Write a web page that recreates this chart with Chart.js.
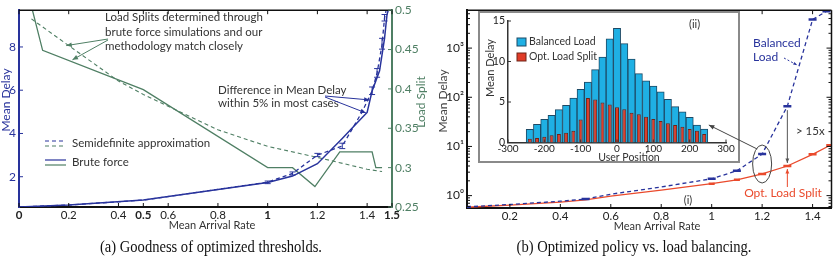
<!DOCTYPE html>
<html>
<head>
<meta charset="utf-8">
<script src="https://cdn.jsdelivr.net/npm/chart.js@4.4.1/dist/chart.umd.min.js"></script>
<style>
  body { margin: 0; background: #fff; }
  #wrap { position: relative; width: 838px; height: 262px; overflow: hidden; background: #fff; }
  canvas { position: absolute; }
  .cap { position: absolute; top: 238px; font: 16px "Liberation Serif", serif; color: #111; white-space: nowrap; transform: translateX(-50%) scaleX(0.91); }
</style>
</head>
<body>
<div id="wrap">
  <canvas id="left" width="430" height="236" style="left:0;top:0"></canvas>
  <canvas id="right" width="418" height="236" style="left:420px;top:0"></canvas>
  <canvas id="inset" width="262" height="152" style="left:478px;top:11px"></canvas>
  <canvas id="over" width="838" height="262" style="left:0;top:0"></canvas>
  <div class="cap" style="left:211px">(a) Goodness of optimized thresholds.</div>
  <div class="cap" style="left:634px">(b) Optimized policy vs. load balancing.</div>
</div>
<script>
// ---- (a) goodness of optimized thresholds ----
const xTicksA = [0, 0.2, 0.4, 0.5, 0.6, 0.8, 1, 1.2, 1.4, 1.5];
const boldTicksA = [0, 0.5, 1, 1.5];
const delayTicksA = [2, 4, 6, 8];
const splitTicksA = [0.25, 0.3, 0.35, 0.4, 0.45, 0.5];

// mean delay, semidefinite approximation (dashed) and brute force (solid)
const sdpRate  = [0, 0.2, 0.5, 1.0, 1.1, 1.2, 1.3, 1.38, 1.42, 1.44, 1.46, 1.47, 1.48];
const sdpDelay = [0.6, 0.69, 0.92, 1.75, 2.15, 3.0, 3.42, 5.0, 5.97, 6.8, 8.1, 9.35, 9.9];
const bfRate   = [0, 0.2, 0.5, 1.0, 1.1, 1.2, 1.3, 1.36, 1.4, 1.42, 1.45, 1.47, 1.48, 1.49];
const bfDelay  = [0.6, 0.69, 0.92, 1.73, 2.03, 2.6, 3.77, 4.5, 4.97, 5.97, 6.9, 8.4, 9.5, 9.9];
// error bars on the semidefinite curve
const errRate = [1.0, 1.1, 1.2, 1.3, 1.42, 1.44, 1.46, 1.47];
const errLo   = [1.68, 2.08, 2.93, 3.3, 5.8, 6.6, 7.9, 9.2];
const errHi   = [1.8, 2.22, 3.08, 3.55, 6.15, 7.0, 8.4, 9.5];
// load split (right axis)
const sdpSplitRate = [0.05, 0.2, 0.4, 0.5, 0.6, 0.8, 1.0, 1.2, 1.4, 1.46];
const sdpSplit     = [0.489, 0.455, 0.41, 0.393, 0.378, 0.348, 0.327, 0.313, 0.298, 0.295];
const bfSplitRate  = [0.05, 0.095, 0.5, 1.0, 1.1, 1.19, 1.29, 1.42, 1.435, 1.46];
const bfSplit      = [0.505, 0.449, 0.399, 0.30, 0.30, 0.276, 0.32, 0.32, 0.30, 0.30];

// ---- (b) optimized policy vs load balancing ----
const xTicksB = [0.2, 0.4, 0.6, 0.8, 1, 1.2, 1.4];
const delayTicksB = [1, 10, 100, 1000];
const balRate  = [0.03, 0.2, 0.4, 0.5, 0.6, 0.8, 1.0, 1.1, 1.2, 1.3, 1.4, 1.455];
const balDelay = [0.59, 0.66, 0.77, 0.85, 1.07, 1.5, 2.2, 3.2, 7.0, 66, 3800, 5600];
const optRate  = [0.03, 0.2, 0.4, 0.5, 0.6, 0.8, 1.0, 1.1, 1.2, 1.3, 1.4, 1.47];
const optDelay = [0.58, 0.64, 0.74, 0.82, 0.98, 1.29, 1.75, 2.1, 2.76, 4.0, 6.9, 10.6];

// inset: delay per user position
const userPos = [-240, -220, -200, -180, -160, -140, -120, -100, -80, -60, -40, -20, 0,
                 20, 40, 60, 80, 100, 120, 140, 160, 180, 200, 220, 240];
const balBar = [1.63, 2.25, 2.86, 3.36, 4.05, 4.59, 5.49, 6.56, 7.47, 9.0, 10.55, 12.8, 14.1,
                12.2, 10.3, 8.5, 7.6, 6.97, 6.27, 5.33, 4.42, 3.8, 3.11, 2.16, 1.67];
const optBar = [0.45, 0.55, 0.72, 0.88, 1.05, 1.21, 1.46, 2.85, 5.5, 5.3, 4.95, 4.7, 4.35,
                4.1, 3.68, 3.48, 3.19, 2.9, 2.65, 2.37, 2.16, 1.95, 1.67, 1.46, 1.05];
const posTicks = [-300, -200, -100, 0, 100, 200, 300];
const barTicks = [0, 5, 10, 15];

const BLUE = '#28339c';
const GREEN = '#4f7f64';
const RED = '#ea4a2c';
const CYAN = '#1fb0e4';
const TXT = '#333';
const FONT = 'Lato, "Open Sans", sans-serif';

const xy = (xs, ys) => xs.map((v, i) => ({ x: v, y: ys[i] }));
const setTicks = vals => s => { s.ticks = vals.map(v => ({ value: v })); };

function line(ctx, x1, y1, x2, y2) {
  ctx.beginPath(); ctx.moveTo(x1, y1); ctx.lineTo(x2, y2); ctx.stroke();
}
function text(ctx, str, x, y, o = {}) {
  ctx.save();
  ctx.translate(x, y); ctx.rotate(o.rot || 0);
  ctx.font = `${o.size || 11}px ${o.family || FONT}`;
  ctx.fillStyle = o.color || TXT;
  ctx.textAlign = o.align || 'left';
  ctx.textBaseline = 'middle';
  ctx.fillText(str, 0, 0);
  ctx.restore();
}
function arrow(ctx, x1, y1, x2, y2, color, head = 5, dash = []) {
  ctx.save();
  ctx.strokeStyle = color; ctx.fillStyle = color; ctx.lineWidth = 1;
  ctx.setLineDash(dash);
  line(ctx, x1, y1, x2, y2);
  ctx.setLineDash([]);
  const a = Math.atan2(y2 - y1, x2 - x1);
  ctx.beginPath();
  ctx.moveTo(x2, y2);
  ctx.lineTo(x2 - head * Math.cos(a - 0.4), y2 - head * Math.sin(a - 0.4));
  ctx.lineTo(x2 - head * Math.cos(a + 0.4), y2 - head * Math.sin(a + 0.4));
  ctx.closePath(); ctx.fill();
  ctx.restore();
}

// Left panel decorations: frame, inward ticks, error bars, legend, notes
const leftDecor = {
  id: 'leftDecor',
  afterDraw(chart) {
    const { ctx, chartArea: a, scales } = chart;
    const x = scales.x, yd = scales.y, ys = scales.y1;
    ctx.save();
    ctx.strokeStyle = '#111'; ctx.lineWidth = 1.5;
    line(ctx, a.left, a.top, a.right, a.top);
    ctx.lineWidth = 1;
    x.ticks.forEach(t => {
      const p = x.getPixelForValue(t.value);
      line(ctx, p, a.bottom, p, a.bottom - 4);
      line(ctx, p, a.top, p, a.top + 4);
    });
    ctx.strokeStyle = BLUE;
    yd.ticks.forEach(t => { const p = yd.getPixelForValue(t.value); line(ctx, a.left, p, a.left + 4, p); });
    ctx.strokeStyle = GREEN;
    ys.ticks.forEach(t => { const p = ys.getPixelForValue(t.value); line(ctx, a.right, p, a.right - 4, p); });

    // error bars
    ctx.strokeStyle = BLUE; ctx.lineWidth = 1;
    errRate.forEach((r, i) => {
      const px = x.getPixelForValue(r), lo = yd.getPixelForValue(errLo[i]), hi = yd.getPixelForValue(errHi[i]);
      line(ctx, px, lo, px, hi);
      line(ctx, px - 3, lo, px + 3, lo);
      line(ctx, px - 3, hi, px + 3, hi);
    });

    // legend
    const ds = chart.data.datasets;
    [[143, 0, 2], [162, 1, 3]].forEach(([y, b, g]) => {
      ctx.lineWidth = 1.2;
      ctx.strokeStyle = ds[b].borderColor; ctx.setLineDash(ds[b].borderDash || []);
      line(ctx, 45, y - 2, 66, y - 2);
      ctx.strokeStyle = ds[g].borderColor; ctx.setLineDash(ds[g].borderDash || []);
      line(ctx, 45, y + 3, 66, y + 3);
      ctx.setLineDash([]);
      text(ctx, ds[b].label, 72, y, { size: 11.5 });
    });

    // notes
    text(ctx, 'Load Splits determined through', 105, 17, { size: 11.5 });
    text(ctx, 'brute force simulations and our', 105, 32, { size: 11.5 });
    text(ctx, 'methodology match closely', 105, 46, { size: 11.5 });
    arrow(ctx, 108, 39, x.getPixelForValue(0.19), ys.getPixelForValue(0.455), GREEN, 6);
    arrow(ctx, 108, 40, x.getPixelForValue(0.215), ys.getPixelForValue(0.437), GREEN, 6);
    text(ctx, 'Difference in Mean Delay', 218, 90, { size: 11.5 });
    text(ctx, 'within 5% in most cases', 218, 103, { size: 11.5 });
    arrow(ctx, 325, 96, x.getPixelForValue(1.41), yd.getPixelForValue(5.55), BLUE, 6);
    arrow(ctx, 325, 97, x.getPixelForValue(1.395), yd.getPixelForValue(4.95), BLUE, 6);

    // axis titles
    text(ctx, 'Mean Delay', 6, 100, { size: 12, color: BLUE, rot: -Math.PI / 2, align: 'center' });
    text(ctx, 'Load Split', 421, 102, { size: 12, color: GREEN, rot: -Math.PI / 2, align: 'center' });
    text(ctx, 'Mean Arrival Rate', 212, 225, { size: 11, align: 'center' });
    ctx.restore();
  }
};

const leftChart = new Chart(document.getElementById('left'), {
  type: 'line',
  data: {
    datasets: [
      { label: 'Semidefinite approximation', data: xy(sdpRate, sdpDelay), yAxisID: 'y',
        borderColor: BLUE, borderDash: [4, 3], borderWidth: 1.3, pointRadius: 0 },
      { label: 'Brute force', data: xy(bfRate, bfDelay), yAxisID: 'y',
        borderColor: BLUE, borderWidth: 1.5, pointRadius: 0 },
      { label: 'Semidefinite approximation', data: xy(sdpSplitRate, sdpSplit), yAxisID: 'y1',
        borderColor: GREEN, borderDash: [4, 3], borderWidth: 1.1, pointRadius: 0 },
      { label: 'Brute force', data: xy(bfSplitRate, bfSplit), yAxisID: 'y1',
        borderColor: GREEN, borderWidth: 1.3, pointRadius: 0 }
    ]
  },
  options: {
    responsive: false,
    animation: false,
    layout: { padding: { top: 6, left: 0, right: 0, bottom: 0 } },
    plugins: { legend: { display: false }, tooltip: { enabled: false } },
    scales: {
      x: {
        type: 'linear', min: 0, max: 1.5,
        afterBuildTicks: setTicks(xTicksA),
        afterFit: s => { s.height = 29; },
        grid: { display: false, drawTicks: false },
        border: { color: '#111', width: 2 },
        ticks: {
          padding: 1, color: '#222', maxRotation: 0, autoSkip: false,
          font: c => ({ family: FONT, size: 11.5, weight: c.tick && boldTicksA.includes(c.tick.value) ? 'bold' : 'normal' }),
          callback: v => String(v)
        }
      },
      y: {
        position: 'left', min: 0.6, max: 9.7,
        afterBuildTicks: setTicks(delayTicksA),
        afterFit: s => { s.width = 19; },
        grid: { display: false, drawTicks: false },
        border: { color: BLUE, width: 2 },
        ticks: { padding: 3, color: BLUE, font: { family: FONT, size: 12 }, callback: v => String(v) }
      },
      y1: {
        position: 'right', min: 0.25, max: 0.5,
        afterBuildTicks: setTicks(splitTicksA),
        afterFit: s => { s.width = 38; },
        grid: { display: false, drawTicks: false },
        border: { color: GREEN, width: 2 },
        ticks: { padding: 3, color: GREEN, font: { family: FONT, size: 12 }, callback: v => String(v) }
      }
    }
  },
  plugins: [leftDecor]
});

// Right panel: frame and inward ticks (log minors included)
const sup = { 0: '\u2070', 1: '\u00b9', 2: '\u00b2', 3: '\u00b3' };
const rightDecor = {
  id: 'rightDecor',
  afterDraw(chart) {
    const { ctx, chartArea: a, scales } = chart;
    const x = scales.x, y = scales.y;
    ctx.save();
    ctx.strokeStyle = '#111'; ctx.lineWidth = 1.5;
    line(ctx, a.left, a.top, a.right, a.top);
    line(ctx, a.right, a.top, a.right, a.bottom);
    ctx.lineWidth = 1;
    x.ticks.forEach(t => {
      const p = x.getPixelForValue(t.value);
      line(ctx, p, a.bottom, p, a.bottom - 4);
      line(ctx, p, a.top, p, a.top + 4);
    });
    for (let e = -1; e <= 3; e++) {
      for (let m = 1; m <= 9; m++) {
        const v = m * Math.pow(10, e);
        if (v < y.min || v > y.max) continue;
        const p = y.getPixelForValue(v), l = m === 1 ? 5 : 3;
        line(ctx, a.left, p, a.left + l, p);
        line(ctx, a.right, p, a.right - l, p);
      }
    }
    text(ctx, 'Mean Delay', 23, 101, { size: 12, color: '#444', rot: -Math.PI / 2, align: 'center' });
    text(ctx, 'Mean Arrival Rate', 237, 226, { size: 11, align: 'center' });
    ctx.restore();
  }
};

const rightChart = new Chart(document.getElementById('right'), {
  type: 'line',
  data: {
    datasets: [
      { label: 'Balanced Load', data: xy(balRate, balDelay),
        borderColor: BLUE, borderDash: [4, 3], borderWidth: 1.3,
        pointStyle: 'line', pointRadius: [4, 0, 0, 4, 0, 0, 4, 4, 4, 4, 4, 4], pointBorderWidth: 2.5, pointBorderColor: BLUE },
      { label: 'Opt. Load Split', data: xy(optRate, optDelay),
        borderColor: RED, borderWidth: 1.3,
        pointStyle: 'line', pointRadius: [0, 0, 0, 0, 0, 0, 3, 3, 4, 4, 4, 4], pointBorderWidth: 2.5, pointBorderColor: RED }
    ]
  },
  options: {
    responsive: false,
    animation: false,
    layout: { padding: { top: 6, left: 0, right: 6, bottom: 0 } },
    plugins: { legend: { display: false }, tooltip: { enabled: false } },
    scales: {
      x: {
        type: 'linear', min: 0.03, max: 1.475,
        afterBuildTicks: setTicks(xTicksB),
        afterFit: s => { s.height = 28; },
        grid: { display: false, drawTicks: false },
        border: { color: '#111', width: 2 },
        ticks: { padding: 1, color: '#222', maxRotation: 0, autoSkip: false, font: { family: FONT, size: 11.5 }, callback: v => String(v) }
      },
      y: {
        type: 'logarithmic', min: 0.56, max: 5900,
        afterBuildTicks: setTicks(delayTicksB),
        afterFit: s => { s.width = 47; },
        grid: { display: false, drawTicks: false },
        border: { color: '#111', width: 2 },
        ticks: { padding: 3, color: '#222', font: { family: FONT, size: 12 },
                 callback: v => '10' + sup[Math.round(Math.log10(v))] }
      }
    }
  },
  plugins: [rightDecor]
});

// Inset: white box, legend, labels
const insetDecor = {
  id: 'insetDecor',
  beforeDraw(chart) {
    const ctx = chart.ctx;
    ctx.save(); ctx.fillStyle = '#fff'; ctx.fillRect(0, 0, chart.width, chart.height); ctx.restore();
  },
  afterDraw(chart) {
    const { ctx, chartArea: a, scales } = chart;
    ctx.save();
    ctx.strokeStyle = '#8a8a8a'; ctx.lineWidth = 2;
    ctx.strokeRect(1, 1, 260, 150);
    ctx.strokeStyle = '#333'; ctx.lineWidth = 1;
    scales.y.ticks.forEach(t => { const p = scales.y.getPixelForValue(t.value); line(ctx, a.left, p, a.left + 3, p); });
    scales.x.ticks.forEach(t => { const p = scales.x.getPixelForValue(t.value); line(ctx, p, a.bottom, p, a.bottom - 3); });
    chart.data.datasets.forEach((d, i) => {
      const y = 31 + i * 15;
      ctx.fillStyle = d.backgroundColor; ctx.strokeStyle = d.borderColor;
      ctx.fillRect(39, y - 4, 9, 8); ctx.strokeRect(39, y - 4, 9, 8);
      text(ctx, d.label, 51, y, { size: 10.5 });
    });
    text(ctx, '(ii)', 211, 13, { size: 11 });
    text(ctx, 'Mean Delay', 12, 57, { size: 11, rot: -Math.PI / 2, align: 'center' });
    text(ctx, 'User Position', 151, 146.5, { size: 10.5, align: 'center' });
    ctx.restore();
  }
};

const insetChart = new Chart(document.getElementById('inset'), {
  type: 'bar',
  data: {
    datasets: [
      { label: 'Balanced Load', data: xy(userPos, balBar), backgroundColor: CYAN, borderColor: '#1d4a66',
        borderWidth: 1, barPercentage: 1, categoryPercentage: 1, grouped: false, order: 2 },
      { label: 'Opt. Load Split', data: xy(userPos, optBar), backgroundColor: '#e03b27', borderColor: '#6e2418',
        borderWidth: 1, barPercentage: 0.55, categoryPercentage: 1, grouped: false, order: 1 }
    ]
  },
  options: {
    responsive: false,
    animation: false,
    layout: { padding: { top: 10, left: 0, right: 14, bottom: 0 } },
    plugins: { legend: { display: false }, tooltip: { enabled: false } },
    scales: {
      x: {
        type: 'linear', min: -300, max: 300, offset: false,
        afterBuildTicks: setTicks(posTicks),
        afterFit: s => { s.height = 20.5; },
        grid: { display: false, drawTicks: false },
        border: { color: '#333', width: 1.5 },
        ticks: { padding: 0, color: '#222', maxRotation: 0, autoSkip: false, font: { family: FONT, size: 10 }, callback: v => String(v) }
      },
      y: {
        min: 0, max: 15,
        afterBuildTicks: setTicks(barTicks),
        afterFit: s => { s.width = 30; },
        grid: { display: false, drawTicks: false },
        border: { color: '#333', width: 1.5 },
        ticks: { padding: 3, color: '#222', font: { family: FONT, size: 10.5 }, callback: v => String(v) }
      }
    }
  },
  plugins: [insetDecor]
});

// Overlay annotations for panel (b), placed through the chart scales
function drawOverlay() {
  const c = document.getElementById('over').getContext('2d');
  const xs = rightChart.scales.x, ys = rightChart.scales.y;
  const X = v => xs.getPixelForValue(v) + 420;
  const Y = v => ys.getPixelForValue(v);
  const ix = insetChart.scales.x, iy = insetChart.scales.y;

  // ellipse around the 1.2 pair of points
  const bi = balRate.indexOf(1.2), oi = optRate.indexOf(1.2);
  const ex = X(1.2), ey = (Y(balDelay[bi]) + Y(optDelay[oi])) / 2;
  c.save();
  c.strokeStyle = '#444'; c.lineWidth = 1;
  c.beginPath(); c.ellipse(ex, ey, 9.5, 19, 0, 0, Math.PI * 2); c.stroke();
  c.restore();
  const last = userPos.length - 1;
  arrow(c, ex - 5, ey - 15, ix.getPixelForValue(userPos[last] + 10) + 478 + 1, iy.getPixelForValue(balBar[last]) + 11 - 4, '#444', 6);

  // > 15x gap at 1.3
  const bj = balRate.indexOf(1.3), oj = optRate.indexOf(1.3);
  const gx = X(1.3);
  arrow(c, gx, Y(balDelay[bj]) + 4, gx, Y(optDelay[oj]) - 3, '#555', 5);
  text(c, '> 15x', 796, 131, { size: 11.5 });
  arrow(c, gx, 187, gx, Y(optDelay[oj]) + 3, RED, 5);
  text(c, 'Opt. Load Split', 783, 193, { size: 12, color: RED, align: 'center' });

  text(c, 'Balanced', 753, 43, { size: 12, color: BLUE });
  text(c, 'Load', 753, 57, { size: 12, color: BLUE });
  arrow(c, 784, 58, 797, 65, BLUE, 4, [2, 2]);
  text(c, '(i)', 688, 200, { size: 11, align: 'center' });
}
drawOverlay();
</script>
</body>
</html>
